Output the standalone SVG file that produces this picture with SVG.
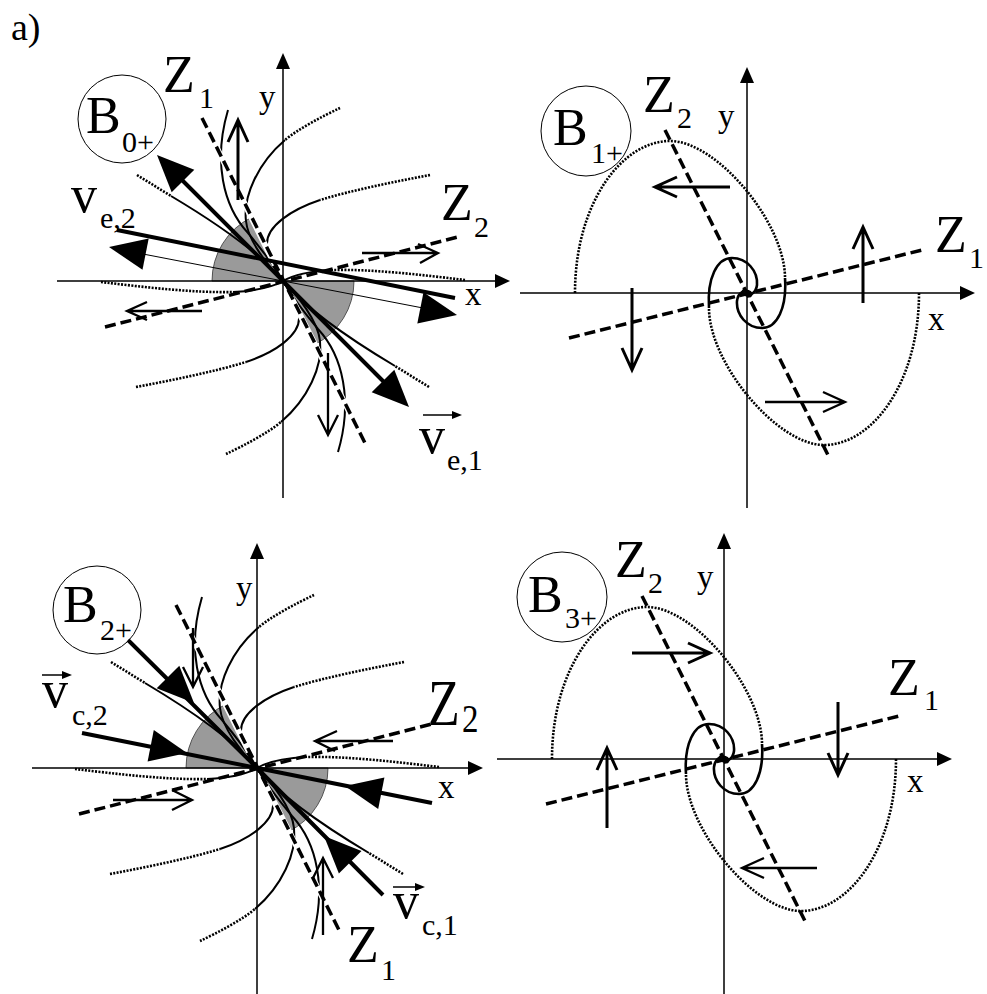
<svg xmlns="http://www.w3.org/2000/svg" width="987" height="994" viewBox="0 0 987 994">
<style>
.ax{stroke:#000;stroke-width:1.5;fill:none}
.dash{stroke:#000;stroke-width:3.5;stroke-dasharray:11 5;fill:none}
.halo{stroke:#fff;stroke-width:6;fill:none}
.tr{stroke:#000;stroke-width:2;fill:none}
.dt{stroke:#000;stroke-width:2.6;stroke-dasharray:2 1.4;fill:none}
.tk{stroke:#000;stroke-width:4;fill:none}
.tn{stroke:#000;stroke-width:1;fill:none}
.op{stroke:#000;stroke-width:3;fill:none}
.op2{stroke:#000;stroke-width:2.3;fill:none}
.sec{fill:#9a9a9a;stroke:#333;stroke-width:0.8}
.hd{fill:#000}
.sp{stroke:#000;stroke-width:2.6;fill:none}
.cir{fill:none;stroke:#000;stroke-width:1}
.va{stroke:#000;stroke-width:1.5;fill:none}
.L{font-size:52px}
.s{font-size:30px}
.m{font-size:33px}
</style>
<defs>
<g id="nh">
<path class="tr" d="M-55,-171 C-70,-120 -60,-75 -35,-48 C-20,-30 -8,-14 0,0"/>
<path class="dt" d="M57,-173 C40,-165 15,-152 2,-141"/>
<path class="tr" d="M2,-141 C-25,-118 -40,-85 -37,-60 C-35,-40 -15,-15 0,0"/>
<path class="dt" d="M147,-106 C110,-99 70,-91 37,-81"/>
<path class="tr" d="M37,-81 C10,-72 -18,-55 -16,-35 C-15,-22 -6,-8 0,0"/>
<path class="dt" d="M-146,-106 L-112,-85"/>
<path class="tr" d="M-112,-85 C-70,-60 -25,-30 0,0"/>
<path class="dt" d="M182,-1 C140,-6 90,-12 50,-11"/>
<path class="tr" d="M50,-11 C30,-10 10,-6 0,0"/>
</g>
<g id="node">
<path class="sec" d="M0,0 L-71,0 A71,71 0 0 1 -31.7,-63.5 Z"/>
<path class="sec" d="M0,0 L71,0 A71,71 0 0 1 31.7,63.5 Z"/>
<use href="#nh"/>
<use href="#nh" transform="rotate(180)"/>
<path class="halo" d="M-79,-159 L-8,-16 M8,16 L80,158"/>
<path class="dash" d="M-81,-163 L82,162"/>
<path class="dash" d="M-178,46 L175,-44"/>
</g>
<g id="arm">
<path class="dt" d="M-172,0 C-172,-90 -125,-152 -77,-152 C-30,-152 38,-70 38,-15"/>
<path class="sp" d="M38,-15 C40,15 30,35 15,35 C0,35 -11,22 -10,8 C-9,-1 -1,-4 3,-1 C5,1 4,4 1,3"/>
</g>
<g id="focus">
<use href="#arm"/>
<use href="#arm" transform="rotate(180)"/>
<path class="dash" d="M-82,-163 L81,162"/>
<path class="dash" d="M-178,45 L175,-43"/>
</g>
</defs>

<text x="11" y="40" font-family="Liberation Serif" font-size="38">a)</text>

<g id="panelA" transform="translate(283,281)">
<use href="#node"/>
<path class="tk" d="M-166,-51 L172,17"/>
<path class="tk" d="M-104,-104 L104,104"/>
<path class="tn" d="M-140,-27 L140,27"/>
<polygon class="hd" points="-126,-126 -88.7,-111.3 -111.3,-88.7"/>
<polygon class="hd" points="126,126 88.7,111.3 111.3,88.7"/>
<polygon class="hd" points="-174,-34 -134.3,-42.6 -140.5,-11.2"/>
<polygon class="hd" points="174,34 134.3,42.6 140.5,11.2"/>
<path class="op" d="M-45,-81 V-161 M-55,-139 L-45,-161 L-35,-139"/>
<path class="op2" d="M45,72 V154 M35,134 L45,154 L55,134"/>
<path class="op2" d="M79,-28 H155 M135,-37 L155,-28 L137,-18"/>
<path class="op2" d="M-81,30 H-156 M-136,21 L-156,30 L-136,39"/>
<path class="ax" d="M-226,0 H214 M0,217 V-214"/>
<polygon class="hd" points="227,0 212,-7 212,7"/>
<polygon class="hd" points="0,-228 -7,-212 7,-212"/>
</g>
<g id="labelsA" font-family="Liberation Serif">
<circle class="cir" cx="122" cy="119" r="44"/>
<text font-family="Liberation Serif" class="L" x="86" y="133">B</text>
<text font-family="Liberation Serif" class="s" x="122" y="152">0+</text>
<text font-family="Liberation Serif" class="L" x="163" y="92">Z</text>
<text font-family="Liberation Serif" class="s" x="199" y="108">1</text>
<text font-family="Liberation Serif" class="m" x="259" y="108">y</text>
<text font-family="Liberation Serif" class="L" x="441" y="220">Z</text>
<text font-family="Liberation Serif" class="s" x="474" y="237">2</text>
<text font-family="Liberation Serif" class="m" x="465" y="305">x</text>
<text font-family="Liberation Serif" class="L" x="71" y="212">v</text>
<text font-family="Liberation Serif" class="s" x="100" y="228">e,2</text>
<path class="va" d="M423,415 H455"/>
<polygon class="hd" points="462,415 452,411 452,419"/>
<text font-family="Liberation Serif" class="L" x="419" y="453">v</text>
<text font-family="Liberation Serif" class="s" x="447" y="470">e,1</text>
</g>

<g id="panelB" transform="translate(747,293)">
<use href="#focus"/>
<path class="op" d="M-17,-106 H-92 M-70,-116 L-92,-106 L-70,-96"/>
<path class="op" d="M-115,-5 V77 M-125,55 L-115,77 L-105,55"/>
<path class="op" d="M116,10 V-66 M106,-44 L116,-66 L126,-44"/>
<path class="op2" d="M18,109 H98 M76,99 L98,109 L76,119"/>
<path class="ax" d="M-227,0 H214 M0,215 V-212"/>
<polygon class="hd" points="228,0 213,-7 213,7"/>
<polygon class="hd" points="0,-226 -7,-210 7,-210"/>
</g>
<g id="labelsB" font-family="Liberation Serif">
<circle class="cir" cx="586" cy="131" r="45"/>
<text font-family="Liberation Serif" class="L" x="553" y="145">B</text>
<text font-family="Liberation Serif" class="s" x="591" y="163">1+</text>
<text font-family="Liberation Serif" class="L" x="643" y="112">Z</text>
<text font-family="Liberation Serif" class="s" x="677" y="128">2</text>
<text font-family="Liberation Serif" class="m" x="718" y="127">y</text>
<text font-family="Liberation Serif" class="L" x="935" y="252">Z</text>
<text font-family="Liberation Serif" class="s" x="969" y="268">1</text>
<text font-family="Liberation Serif" class="m" x="928" y="330">x</text>
</g>

<g id="panelC" transform="translate(257,768)">
<use href="#node"/>
<path class="tk" d="M-129,-128 L0,0 M126,127 L0,0 M-175,-35 L0,0 M175,35 L0,0"/>
<polygon class="hd" points="-63,-65 -77.7,-102.3 -100.3,-79.7"/>
<polygon class="hd" points="67,68 104.5,82.9 81.9,105.5"/>
<polygon class="hd" points="-70,-15 -109.4,-6.6 -103.2,-38"/>
<polygon class="hd" points="88,18 121.2,41 127.4,9.6"/>
<path class="op2" d="M-64,-140 V-81 M-74,-101 L-64,-81 L-54,-101"/>
<path class="op2" d="M66,167 V90 M56,110 L66,90 L76,110"/>
<path class="op2" d="M136,-27 H58 M80,-37 L58,-27 L78,-17"/>
<path class="op2" d="M-144,32 H-65 M-85,22 L-65,32 L-85,42"/>
<path class="ax" d="M-225,0 H212 M0,226 V-211"/>
<polygon class="hd" points="226,0 211,-7 211,7"/>
<polygon class="hd" points="0,-225 -7,-209 7,-209"/>
</g>
<g id="labelsC" font-family="Liberation Serif">
<circle class="cir" cx="97" cy="610" r="44"/>
<text font-family="Liberation Serif" class="L" x="63" y="622">B</text>
<text font-family="Liberation Serif" class="s" x="100" y="640">2+</text>
<path class="va" d="M42,675 H64"/>
<polygon class="hd" points="72,675 62,671 62,679"/>
<text font-family="Liberation Serif" class="L" x="42" y="707">v</text>
<text font-family="Liberation Serif" class="s" x="72" y="725">c,2</text>
<text font-family="Liberation Serif" class="m" x="236" y="599">y</text>
<text font-family="Liberation Serif" class="L" transform="translate(428,725) scale(1,1.27)">Z</text>
<text font-family="Liberation Serif" class="s" transform="translate(462,732) scale(1.1,1.35)">2</text>
<text font-family="Liberation Serif" class="m" x="438" y="798">x</text>
<text font-family="Liberation Serif" class="L" x="347" y="962">Z</text>
<text font-family="Liberation Serif" class="s" x="381" y="980">1</text>
<path class="va" d="M393,887 H417"/>
<polygon class="hd" points="425,887 415,883 415,891"/>
<text font-family="Liberation Serif" class="L" x="393" y="918">v</text>
<text font-family="Liberation Serif" class="s" x="422" y="935">c,1</text>
</g>

<g id="panelD" transform="translate(724,759)">
<use href="#focus"/>
<path class="op" d="M-92,-106 H-14 M-36,-116 L-14,-106 L-36,-96"/>
<path class="op" d="M-117,69 V-11 M-127,11 L-117,-11 L-107,11"/>
<path class="op" d="M114,-57 V16 M104,-6 L114,16 L124,-6"/>
<path class="op2" d="M93,109 H18 M40,99 L18,109 L40,119"/>
<path class="ax" d="M-227,0 H214 M0,235 V-212"/>
<polygon class="hd" points="228,0 213,-7 213,7"/>
<polygon class="hd" points="0,-226 -7,-210 7,-210"/>
</g>
<g id="labelsD" font-family="Liberation Serif">
<circle class="cir" cx="562" cy="597" r="45"/>
<text font-family="Liberation Serif" class="L" x="528" y="612">B</text>
<text font-family="Liberation Serif" class="s" x="565" y="628">3+</text>
<text font-family="Liberation Serif" class="L" x="615" y="577">Z</text>
<text font-family="Liberation Serif" class="s" x="648" y="593">2</text>
<text font-family="Liberation Serif" class="m" x="697" y="588">y</text>
<text font-family="Liberation Serif" class="L" x="888" y="695">Z</text>
<text font-family="Liberation Serif" class="s" x="924" y="710">1</text>
<text font-family="Liberation Serif" class="m" x="907" y="792">x</text>
</g>
</svg>
